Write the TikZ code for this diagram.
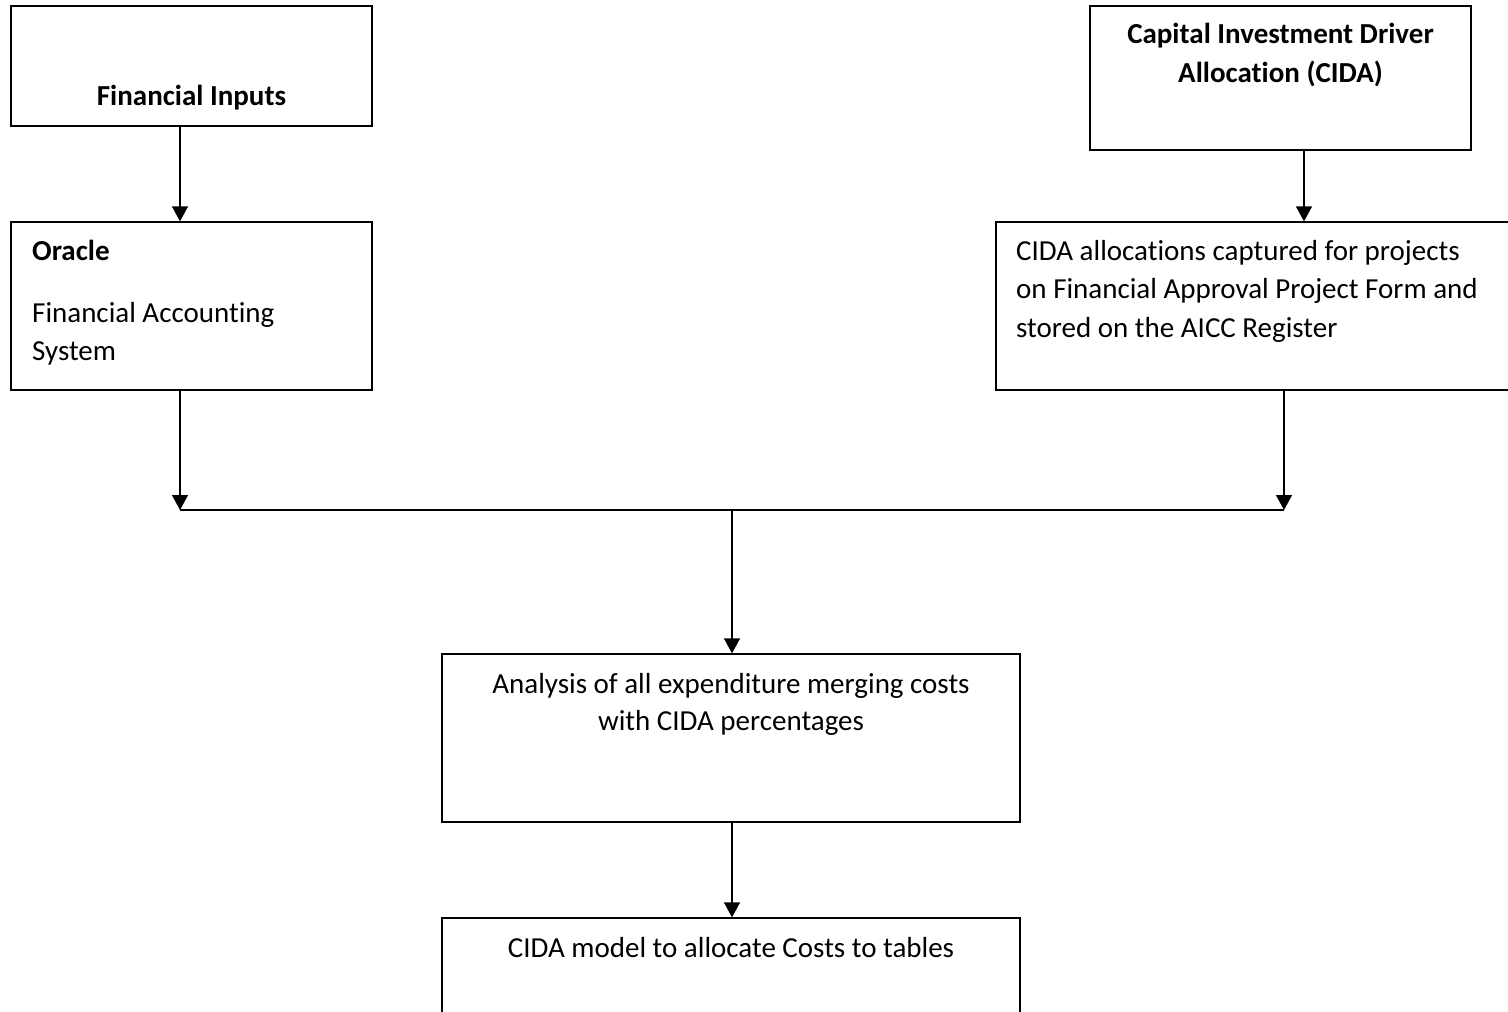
\documentclass[tikz,border=0pt]{standalone}
\usepackage{fontspec}
\setmainfont{Carlito}[Ligatures=CommonOff]
\usetikzlibrary{arrows.meta}
\tikzset{
  box/.style={draw=black, line width=1.3pt, rectangle, inner sep=0pt},
  arr/.style={line width=1.3pt, -{Triangle[width=16pt,length=15pt]}},
  conn/.style={line width=1.3pt},
  txt/.style={inner sep=0pt, font=\fontsize{29pt}{38pt}\selectfont},
  btxt/.style={txt, font=\fontsize{29pt}{38pt}\selectfont\bfseries},
}
\begin{document}
\begin{tikzpicture}[x=1pt,y=-1pt]
\useasboundingbox (0,0) rectangle (1508,1012);
\clip (0,0) rectangle (1508,1012);
% boxes
\node[box, minimum width=361pt, minimum height=120pt] (fin) at (191.5,66) {};
\node[box, minimum width=361pt, minimum height=168pt] (ora) at (191.5,306) {};
\node[box, minimum width=381pt, minimum height=144pt] (cid) at (1280.5,78) {};
\node[box, minimum width=534pt, minimum height=168pt] (alloc) at (1263,306) {};
\node[box, minimum width=578pt, minimum height=168pt] (ana) at (731,738) {};
\node[box, minimum width=578pt, minimum height=122pt] (mod) at (731,979) {};
% junction coordinates
\coordinate (jL) at (180,510);
\coordinate (jR) at (1284,510);
\coordinate (jM) at (732,510);
\coordinate (cidx) at (1304,150);
% texts
\node[btxt, anchor=base] (t1) at (191.5,105) {Financial Inputs};
\node[btxt, anchor=base] (t2) at (1280.5,43) {Capital Investment Driver};
\node[btxt, anchor=base] (t3) at (1280.5,82) {Allocation (CIDA)};
\node[btxt, anchor=base west] (t4) at (32,260) {Oracle};
\node[txt, anchor=base west] (t5) at (32,322) {Financial Accounting};
\node[txt, anchor=base west] (t6) at (32,360) {System};
\node[txt, anchor=base west] (t7) at (1016,260) {CIDA allocations captured for projects};
\node[txt, anchor=base west] (t8) at (1016,298) {on Financial Approval Project Form and};
\node[txt, anchor=base west] (t9) at (1016,337) {stored on the AICC Register};
\node[txt, anchor=base] (t10) at (731,693) {Analysis of all expenditure merging costs};
\node[txt, anchor=base] (t11) at (731,730) {with CIDA percentages};
\node[txt, anchor=base] (t12) at (731,957) {CIDA model to allocate Costs to tables};
% connectors
\draw[arr] (fin.south -| jL) -- (ora.north -| jL);
\draw[arr] (cid.south -| cidx) -- (alloc.north -| cidx);
\draw[arr] (ora.south -| jL) -- (jL);
\draw[arr] (alloc.south -| jR) -- (jR);
\draw[conn] (jL) -- (jR);
\draw[arr] (jM) -- (ana.north -| jM);
\draw[arr] (ana.south -| jM) -- (mod.north -| jM);
\end{tikzpicture}
\end{document}
